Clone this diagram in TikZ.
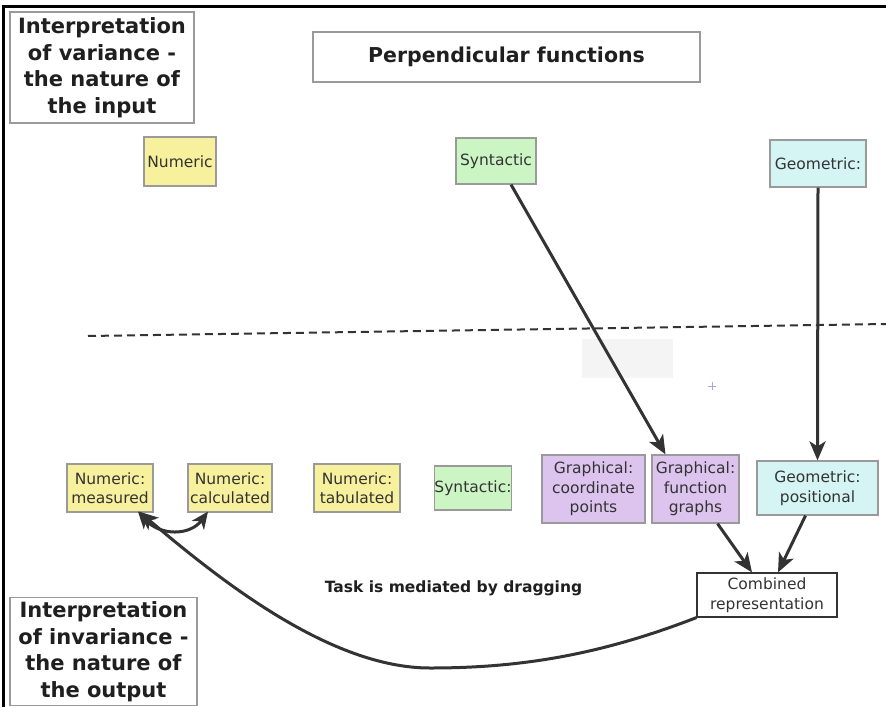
\documentclass[tikz,border=0pt]{standalone}
\usepackage{fontspec}
\setmainfont{DejaVu Sans}
\usetikzlibrary{arrows.meta}
\definecolor{ylw}{HTML}{F7F09C}
\definecolor{grn}{HTML}{CCF5C4}
\definecolor{cyn}{HTML}{D5F4F4}
\definecolor{prp}{HTML}{DCC4EE}
\definecolor{bdr}{HTML}{9A9A9A}
\definecolor{ink}{HTML}{333333}
\definecolor{faint}{HTML}{F4F4F4}
\definecolor{plusc}{HTML}{A8A8E0}
\tikzset{
  box/.style={draw=bdr, line width=1.2pt, inner sep=0pt, align=center,
    font=\fontsize{15.5}{19.5}\selectfont, text=ink},
  titlebox/.style={draw=bdr, line width=1.3pt, inner sep=0pt, align=center,
    font=\fontsize{21}{26.5}\selectfont\bfseries, text=black!88},
  conn/.style={draw=ink, line width=3pt, -{Stealth[length=19pt,width=16pt,inset=5pt]}},
  dconn/.style={draw=ink, line width=3pt, {Stealth[length=17pt,width=15pt,inset=5pt]}-{Stealth[length=17pt,width=15pt,inset=5pt]}},
}
\begin{document}
\begin{tikzpicture}[x=1pt,y=-1pt]
\useasboundingbox (0,0) rectangle (886,707);
\fill[white] (0,0) rectangle (886,707);
% frame
\draw[black, line width=2.2pt] (3.5,707) -- (3.5,6.5) -- (886,6.5);
% faint rectangle and plus
\fill[faint] (582,339) rectangle (673,378);
\draw[plusc, line width=0.8pt] (708,386) -- (716,386) (712,382) -- (712,390);
% dashed line
\coordinate (dl) at (88,336);
\coordinate (dr) at (886,324);
\draw[ink, line width=2pt, dash pattern=on 8pt off 5pt] (dl) -- (dr);
% title boxes
\node[titlebox, minimum width=184pt, minimum height=111pt] (tl) at (102,67.5)
  {Interpretation\\of variance -\\the nature of\\the input};
\node[titlebox, minimum width=187pt, minimum height=108pt] (bl) at (103.5,651.5)
  {Interpretation\\of invariance -\\the nature of\\the output};
\node[titlebox, line width=1.3pt, minimum width=387pt, minimum height=50pt,
  font=\fontsize{20.5}{24}\selectfont\bfseries] (pf) at (506.5,57) {Perpendicular functions};
% top row
\node[box, fill=ylw, minimum width=72pt, minimum height=49pt] (numtop) at (180,161.5) {Numeric};
\node[box, fill=grn, minimum width=80pt, minimum height=46pt] (syntop) at (496,161) {Syntactic};
\node[box, fill=cyn, minimum width=96pt, minimum height=47pt] (geotop) at (818,163.5) {Geometric:};
% bottom row
\node[box, fill=ylw, minimum width=86pt, minimum height=48pt] (meas) at (110,488) {Numeric:\\measured};
\node[box, fill=ylw, minimum width=84pt, minimum height=48pt] (calc) at (230,488) {Numeric:\\calculated};
\node[box, fill=ylw, minimum width=86pt, minimum height=48pt] (tab) at (357,488) {Numeric:\\tabulated};
\node[box, fill=grn, minimum width=72pt, minimum height=44pt] (syn) at (473,488) {Syntactic:};
\node[box, fill=prp, minimum width=103pt, minimum height=68pt] (gcp) at (593.5,489) {Graphical:\\coordinate\\points};
\node[box, fill=prp, minimum width=87pt, minimum height=68pt] (gfg) at (695.5,489) {Graphical:\\function\\graphs};
\node[box, fill=cyn, minimum width=121pt, minimum height=54pt] (gpos) at (817.5,488) {Geometric:\\positional};
\node[box, draw=ink, fill=white, minimum width=140pt, minimum height=44pt] (comb) at (767,595) {Combined\\representation};
% label
\node[font=\fontsize{15.5}{18}\selectfont\bfseries, text=black!88, inner sep=0pt] (task) at (453.5,588) {Task is mediated by dragging};
% connectors
\draw[conn] ([xshift=15pt]syntop.south) -- ([xshift=-30pt]gfg.north);
\draw[conn] (geotop.south) -- (gpos.north);
\draw[conn] ([xshift=22pt]gfg.south) -- ([xshift=-15pt]comb.north);
\draw[conn] ([xshift=-12pt]gpos.south) -- ([xshift=11pt]comb.north);
\coordinate (low) at (430,668);
\draw[conn] (comb.south west) .. controls (600,655) and (520,668) .. (low)
  .. controls (330,668) and (220,580) .. ([xshift=29pt,yshift=1pt]meas.south);
\draw[dconn] ([xshift=28pt,yshift=1pt]meas.south) .. controls (160,536) and (190,536) .. ([xshift=-22pt,yshift=1pt]calc.south);
\end{tikzpicture}
\end{document}
